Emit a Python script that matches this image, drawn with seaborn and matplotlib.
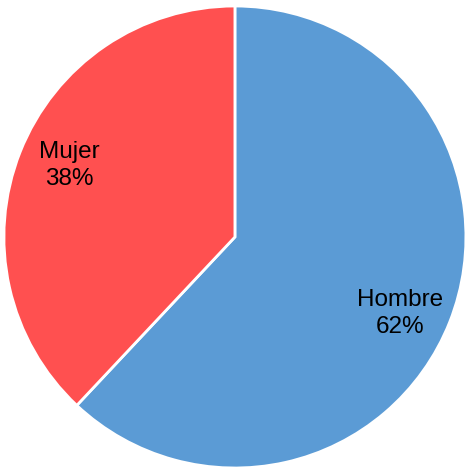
import matplotlib
matplotlib.use("Agg")
import numpy as np
import matplotlib.pyplot as plt
import seaborn as sns

categories = ["Hombre", "Mujer"]
shares = [62, 38]
colors = ["#5B9BD5", "#FF5050"]

sns.set_theme(style="white")
plt.rcParams['font.family'] = ['Liberation Sans', 'DejaVu Sans']

fig = plt.figure(figsize=(4.68, 4.71), dpi=100)
ax = fig.add_axes([0, 0, 1, 1])

wedges, _, autotexts = ax.pie(
    shares,
    colors=sns.color_palette(colors),
    startangle=90,
    counterclock=False,
    autopct="%1.0f%%",
    pctdistance=0.78,
    wedgeprops=dict(edgecolor="white", linewidth=2),
    textprops=dict(fontsize=17.5, color="black"),
)

# labels sit a little clockwise of the wedge middle in the original
for cat, w, t in zip(categories, wedges, autotexts):
    t.set_text(f"{cat}\n{t.get_text()}")
    t.set_multialignment("center")
    t.set_linespacing(1.3)
    ang = np.deg2rad((w.theta1 + w.theta2) / 2 - 2.5)
    t.set_position((0.785 * np.cos(ang), 0.785 * np.sin(ang) - 0.012))

ax.set_xlim(-1.017, 1.009)
ax.set_ylim(-1.013, 1.026)
ax.set_aspect("equal")
ax.axis("off")

fig.savefig("out.png", dpi=100)
